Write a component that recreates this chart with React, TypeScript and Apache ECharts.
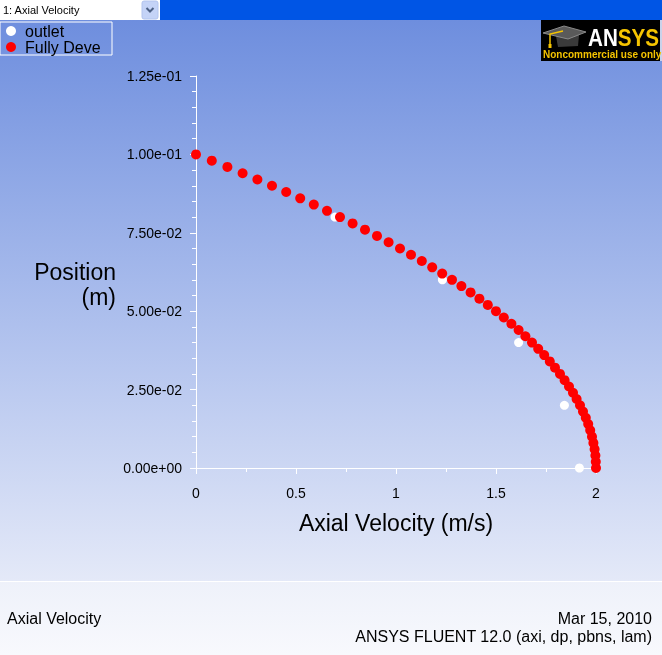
import React, { useEffect, useRef } from "react";
import * as echarts from "echarts";

// Position (m) of each "Fully Developed" sample
const fullyPositions = [
  0, 0.002, 0.004, 0.006, 0.008, 0.01, 0.012, 0.014, 0.016, 0.018,
  0.02, 0.022, 0.024, 0.026, 0.028, 0.03, 0.032, 0.034, 0.036, 0.038,
  0.04, 0.042, 0.044, 0.046, 0.048, 0.05, 0.052, 0.054, 0.056, 0.058,
  0.06, 0.062, 0.064, 0.066, 0.068, 0.07, 0.072, 0.074, 0.076, 0.078,
  0.08, 0.082, 0.084, 0.086, 0.088, 0.09, 0.092, 0.094, 0.096, 0.098, 0.1,
];
// Axial velocity (m/s)
const fullyVelocity = [
  2.0, 1.999, 1.997, 1.993, 1.987, 1.98, 1.971, 1.961, 1.949, 1.935,
  1.92, 1.903, 1.885, 1.865, 1.843, 1.82, 1.795, 1.769, 1.741, 1.711,
  1.68, 1.647, 1.613, 1.577, 1.539, 1.5, 1.459, 1.417, 1.373, 1.327,
  1.28, 1.231, 1.181, 1.129, 1.075, 1.02, 0.963, 0.905, 0.845, 0.783,
  0.72, 0.655, 0.589, 0.521, 0.451, 0.38, 0.307, 0.233, 0.157, 0.079, 0,
];
// outlet samples (white markers)
const outletPositions = [0, 0.02, 0.04, 0.06, 0.08, 0.1];
const outletVelocity = [1.917, 1.842, 1.613, 1.232, 0.695, 0];

const seriesNames = ["outlet", "Fully Developed"];
const xAxisTitle = "Axial Velocity (m/s)";
const yAxisTitle = "\nPosition\n(m)";
const footerLeft = "Axial Velocity";
const footerDate = "Mar 15, 2010";
const footerVersion = "ANSYS FLUENT 12.0 (axi, dp, pbns, lam)";
const dropdownLabel = "1: Axial Velocity";

const FONT = "'Liberation Sans', Arial, Helvetica, sans-serif";

function fmtExp(v: number): string {
  const s = Number(v).toExponential(2);
  return s.replace(/e([+-])(\d)$/, "e$10$2");
}

export default function App() {
  const ref = useRef<HTMLDivElement>(null);

  useEffect(() => {
    if (!ref.current) return;
    const chart = echarts.init(ref.current, null, { renderer: "svg" });

    const outletData = outletVelocity.map((v, i) => [v, outletPositions[i]]);
    const fullyData = fullyVelocity.map((v, i) => [v, fullyPositions[i]]);

    const option: any = {
      animation: false,
      textStyle: { fontFamily: FONT },
      grid: { left: 196, right: 66, top: 76, bottom: 187, containLabel: false },
      legend: {
        data: seriesNames,
        orient: "vertical",
        left: 0,
        top: 22,
        padding: [1, 9, 0, 6],
        itemGap: 0,
        itemWidth: 10,
        itemHeight: 10,
        icon: "circle",
        borderColor: "#ffffff",
        borderWidth: 1,
        selectedMode: false,
        textStyle: {
          fontFamily: FONT,
          fontSize: 16,
          lineHeight: 15,
          color: "#000",
          width: 78,
          overflow: "truncate",
          ellipsis: "",
          padding: [0, 0, 0, 4],
        },
      },
      xAxis: {
        type: "value",
        min: 0,
        max: 2,
        interval: 0.5,
        name: xAxisTitle,
        nameLocation: "middle",
        nameGap: 55,
        nameTextStyle: { fontSize: 23, color: "#000", fontFamily: FONT, verticalAlign: "middle" },
        axisLine: { show: true, lineStyle: { color: "#ffffff", width: 1 } },
        axisTick: { show: true, length: 6, lineStyle: { color: "#ffffff" } },
        minorTick: { show: true, splitNumber: 2, length: 4, lineStyle: { color: "#ffffff" } },
        splitLine: { show: false },
        axisLabel: { fontSize: 14, color: "#000", margin: 18, fontFamily: FONT },
      },
      yAxis: {
        type: "value",
        min: 0,
        max: 0.125,
        interval: 0.025,
        name: yAxisTitle,
        nameLocation: "middle",
        nameRotate: 0,
        nameGap: 80,
        nameTextStyle: {
          fontSize: 23,
          color: "#000",
          fontFamily: FONT,
          align: "right",
          verticalAlign: "middle",
          lineHeight: 25,
        },
        axisLine: { show: true, lineStyle: { color: "#ffffff", width: 1 } },
        axisTick: { show: true, length: 6, lineStyle: { color: "#ffffff" } },
        minorTick: { show: true, splitNumber: 5, length: 4, lineStyle: { color: "#ffffff" } },
        splitLine: { show: false },
        axisLabel: { fontSize: 14, color: "#000", margin: 14, fontFamily: FONT, formatter: fmtExp },
      },
      series: [
        {
          name: seriesNames[0],
          type: "scatter",
          data: outletData,
          symbol: "circle",
          symbolSize: 9,
          itemStyle: { color: "#ffffff", opacity: 1 },
          z: 2,
        },
        {
          name: seriesNames[1],
          type: "scatter",
          data: fullyData,
          symbol: "circle",
          symbolSize: 10,
          itemStyle: { color: "#ff0000", opacity: 1 },
          z: 3,
        },
      ],
      graphic: [
        // plot background gradient
        {
          type: "rect",
          z: -100,
          shape: { x: 0, y: 20, width: 662, height: 561 },
          style: {
            fill: {
              type: "linear", x: 0, y: 0, x2: 0, y2: 1,
              colorStops: [
                { offset: 0, color: "#6e8ede" },
                { offset: 0.5, color: "#a9bcec" },
                { offset: 1, color: "#e4e9f8" },
              ],
            },
          },
          silent: true,
        },
        // footer panel
        {
          type: "rect",
          z: -100,
          shape: { x: 0, y: 581, width: 662, height: 74 },
          style: {
            fill: {
              type: "linear", x: 0, y: 0, x2: 0, y2: 1,
              colorStops: [
                { offset: 0, color: "#eef1fa" },
                { offset: 1, color: "#f8f9fd" },
              ],
            },
          },
          silent: true,
        },
        {
          type: "line",
          z: -99,
          shape: { x1: 0, y1: 581.5, x2: 662, y2: 581.5 },
          style: { stroke: "#ffffff", lineWidth: 1 },
          silent: true,
        },
        // top bar
        {
          type: "rect",
          z: -100,
          shape: { x: 0, y: 0, width: 662, height: 20 },
          style: { fill: "#0055e5" },
          silent: true,
        },
        {
          type: "rect",
          z: -99,
          shape: { x: 0, y: 0, width: 160, height: 20 },
          style: { fill: "#ffffff" },
          silent: true,
        },
        {
          type: "rect",
          z: -98,
          shape: { x: 142, y: 1, width: 16, height: 18, r: 2 },
          style: { fill: "#c4d3f7", stroke: "#b2c4ee", lineWidth: 1 },
          silent: true,
        },
        {
          type: "polyline",
          z: -97,
          shape: { points: [[146.5, 8], [150, 11.5], [153.5, 8]] },
          style: { stroke: "#4d6185", lineWidth: 2, fill: null },
          silent: true,
        },
        {
          type: "text",
          z: -97,
          x: 3,
          y: 10,
          style: {
            text: dropdownLabel,
            fontSize: 11,
            fontFamily: FONT,
            fill: "#000",
            verticalAlign: "middle",
            align: "left",
          },
          silent: true,
        },
        // ANSYS logo
        {
          type: "rect",
          z: 100,
          shape: { x: 541, y: 20, width: 119, height: 41 },
          style: { fill: "#000000" },
          silent: true,
        },
        {
          type: "rect",
          z: 100,
          shape: { x: 660, y: 20, width: 2, height: 41 },
          style: { fill: "#c9d2ea" },
          silent: true,
        },
        {
          type: "polygon",
          z: 101,
          shape: { points: [[556, 36], [579, 35], [578, 46], [558, 47]] },
          style: { fill: "#3a3a3a" },
          silent: true,
        },
        {
          type: "polygon",
          z: 102,
          shape: { points: [[543, 33], [564, 26], [586, 32], [568, 39]] },
          style: { fill: "#5a5a5a", stroke: "#8a8a8a", lineWidth: 1 },
          silent: true,
        },
        {
          type: "polyline",
          z: 103,
          shape: { points: [[563, 31], [550, 34], [550, 47]] },
          style: { stroke: "#f5c400", lineWidth: 1.5, fill: null },
          silent: true,
        },
        {
          type: "rect",
          z: 103,
          shape: { x: 548.5, y: 44, width: 3, height: 4 },
          style: { fill: "#f5c400" },
          silent: true,
        },
        {
          type: "text",
          z: 103,
          x: 588,
          y: 38,
          scaleX: 0.86,
          style: {
            text: "{w|AN}{y|SYS}",
            fontFamily: FONT,
            fontWeight: "bold",
            fontSize: 24,
            verticalAlign: "middle",
            align: "left",
            rich: {
              w: { fill: "#ffffff", fontSize: 24, fontWeight: "bold", fontFamily: FONT },
              y: { fill: "#f5c400", fontSize: 24, fontWeight: "bold", fontFamily: FONT },
            },
          },
          silent: true,
        },
        {
          type: "text",
          z: 103,
          x: 543,
          y: 54,
          style: {
            text: "Noncommercial use only",
            fontFamily: FONT,
            fontWeight: "bold",
            fontSize: 10,
            fill: "#f5c400",
            verticalAlign: "middle",
            align: "left",
          },
          silent: true,
        },
        // footer texts
        {
          type: "text",
          x: 7,
          y: 618,
          style: {
            text: footerLeft,
            fontFamily: FONT,
            fontSize: 16,
            fill: "#000",
            verticalAlign: "middle",
            align: "left",
          },
          silent: true,
        },
        {
          type: "text",
          x: 652,
          y: 618,
          style: {
            text: footerDate,
            fontFamily: FONT,
            fontSize: 16,
            fill: "#000",
            verticalAlign: "middle",
            align: "right",
          },
          silent: true,
        },
        {
          type: "text",
          x: 652,
          y: 636,
          style: {
            text: footerVersion,
            fontFamily: FONT,
            fontSize: 16,
            fill: "#000",
            verticalAlign: "middle",
            align: "right",
          },
          silent: true,
        },
      ],
    };

    chart.setOption(option);
    return () => {
      chart.dispose();
    };
  }, []);

  return (
    <div
      ref={ref}
      style={{ position: "fixed", left: 0, top: 0, width: 662, height: 655 }}
    />
  );
}
